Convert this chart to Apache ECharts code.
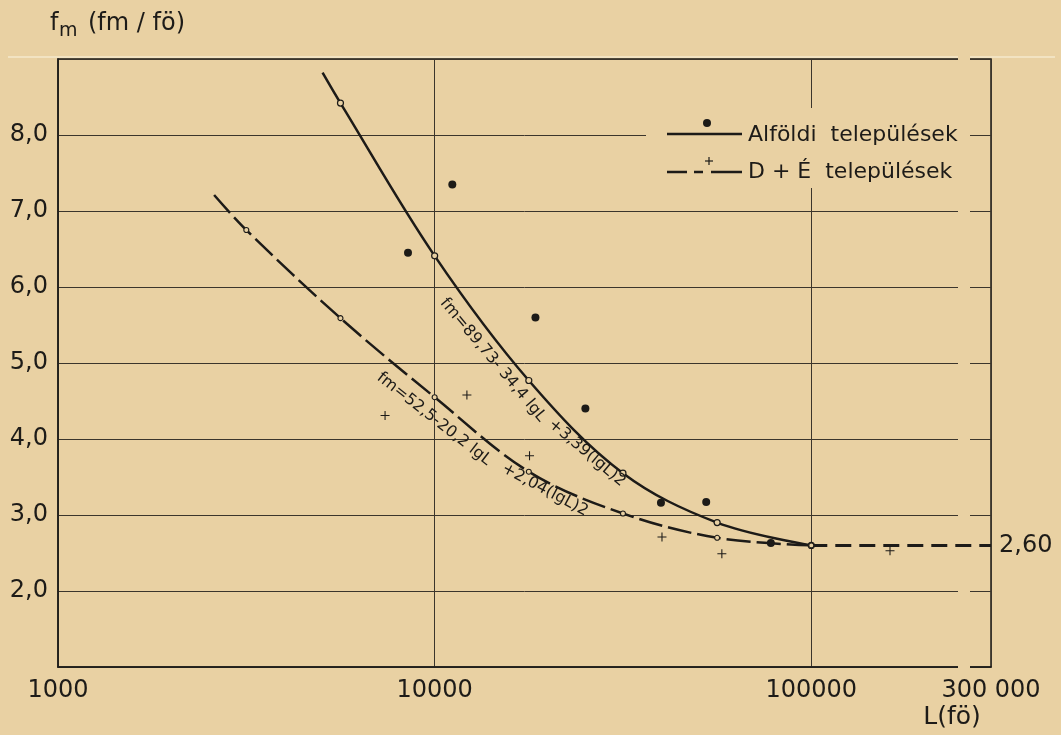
<!DOCTYPE html>
<html>
<head>
<meta charset="utf-8">
<script src="https://cdn.jsdelivr.net/npm/echarts@6/dist/echarts.min.js"></script>
<style>
html, body { margin: 0; padding: 0; background: #e9d1a3; }
#main { width: 1061px; height: 735px; }
</style>
</head>
<body>
<div id="main"></div>
<script>
// tick labels
var xTicks = [1000, 10000, 100000, 300000];
var xTickLabels = ['1000', '10000', '100000', '300 000'];

// fitted curves (open circles on the lines)
var alfoldCurve = [[5040, 8.82], [5623, 8.42], [10000, 6.41], [17783, 4.77], [31623, 3.55], [56234, 2.90], [100000, 2.60]];
var deCurve = [[2597, 7.21], [3162, 6.75], [5623, 5.59], [10000, 4.55], [17783, 3.57], [31623, 3.02], [56234, 2.70], [100000, 2.60]];
var plateau = [[100000, 2.60], [300000, 2.60]];

// measured settlements
var alfoldPoints = [[8497, 6.45], [11140, 7.35], [18520, 5.60], [25130, 4.40], [39890, 3.16], [52600, 3.17], [78100, 2.63]];
var dePoints = [[7385, 4.31], [12180, 4.58], [17860, 3.78], [40140, 2.71], [57880, 2.49], [161800, 2.53]];

var ink = '#1d1b18';
var gridInk = '#3b352c';
var paper = '#e9d1a3';
var font = 'DejaVu Sans';
var plusPath = 'path://M4.4,0H5.6V4.4H10V5.6H5.6V10H4.4V5.6H0V4.4H4.4Z';

// first point of each curve carries no circle
function curveData(arr) {
    return arr.map(function (p, i) {
        return i === 0 ? { value: p, symbol: 'none' } : p;
    });
}

var chart = echarts.init(document.getElementById('main'));
chart.setOption({
    animation: false,
    backgroundColor: paper,
    grid: {
        left: 58, right: 70, top: 59, bottom: 68,
        show: true,
        borderColor: ink,
        borderWidth: 1.5,
        backgroundColor: 'transparent',
        outerBoundsMode: 'none'
    },
    xAxis: {
        type: 'log',
        logBase: 10,
        min: 1000,
        max: 300000,
        axisLine: { show: true, lineStyle: { color: ink, width: 1.5 } },
        axisTick: { show: false },
        splitLine: { show: true, lineStyle: { color: gridInk, width: 1 } },
        axisLabel: {
            customValues: xTicks,
            margin: 12,
            color: ink,
            fontFamily: font,
            fontSize: 24,
            formatter: function (v) {
                var best = 0;
                for (var i = 0; i < xTicks.length; i++) {
                    if (Math.abs(Math.log10(xTicks[i]) - Math.log10(v)) < Math.abs(Math.log10(xTicks[best]) - Math.log10(v))) best = i;
                }
                return xTickLabels[best];
            }
        }
    },
    yAxis: {
        type: 'value',
        min: 1,
        max: 9,
        interval: 1,
        axisLine: { show: true, lineStyle: { color: ink, width: 1.5 } },
        axisTick: { show: false },
        splitLine: { show: true, lineStyle: { color: gridInk, width: 1 } },
        axisLabel: {
            margin: 10,
            color: ink,
            fontFamily: font,
            fontSize: 24,
            formatter: function (v) {
                if (v <= 1 || v >= 9) return '';
                return v.toFixed(1).replace('.', ',');
            }
        }
    },
    series: [
        {
            name: 'Alföldi települések görbe',
            type: 'line',
            smooth: 0.35,
            data: curveData(alfoldCurve),
            symbol: 'circle',
            symbolSize: 6,
            itemStyle: { color: paper, borderColor: ink, borderWidth: 1.2, opacity: 1 },
            lineStyle: { color: ink, width: 2.5 },
            z: 3
        },
        {
            name: 'D+É települések görbe',
            type: 'line',
            smooth: 0.35,
            data: curveData(deCurve),
            symbol: 'circle',
            symbolSize: 5,
            itemStyle: { color: paper, borderColor: ink, borderWidth: 1.1, opacity: 1 },
            lineStyle: { color: ink, width: 2.5, type: [24, 6] },
            z: 3
        },
        {
            name: 'határérték',
            type: 'line',
            data: plateau,
            symbol: 'none',
            lineStyle: { color: ink, width: 3, type: [16, 8] },
            endLabel: {
                show: true,
                distance: 8,
                color: ink,
                fontFamily: font,
                fontSize: 24,
                formatter: function (p) { return p.value[1].toFixed(2).replace('.', ','); }
            },
            z: 3
        },
        {
            name: 'Alföldi települések',
            type: 'scatter',
            data: alfoldPoints,
            symbol: 'circle',
            symbolSize: 8,
            itemStyle: { color: ink, opacity: 1 },
            z: 4
        },
        {
            name: 'D+É települések',
            type: 'scatter',
            data: dePoints,
            symbol: plusPath,
            symbolSize: 9,
            itemStyle: { color: ink, opacity: 1 },
            z: 4
        }
    ],
    graphic: [
        // faint crease in the paper
        { type: 'line', silent: true, z: 0, shape: { x1: 8, y1: 57, x2: 1055, y2: 57 }, style: { stroke: '#f5e8cc', lineWidth: 1.5 } },
        // white stripe where the ruled lines break
        { type: 'rect', silent: true, z: 1, shape: { x: 958, y: 52, width: 12, height: 620 }, style: { fill: paper } },
        // legend
        { type: 'rect', silent: true, z: 1, shape: { x: 646, y: 108, width: 320, height: 80 }, style: { fill: paper } },
        { type: 'line', z: 5, shape: { x1: 667, y1: 134, x2: 742, y2: 134 }, style: { stroke: ink, lineWidth: 2.5 } },
        { type: 'circle', z: 5, shape: { cx: 707, cy: 123, r: 4 }, style: { fill: ink } },
        { type: 'text', z: 5, x: 748, y: 135, style: { text: 'Alföldi  települések', fill: ink, fontFamily: font, fontSize: 22, align: 'left', verticalAlign: 'middle' } },
        { type: 'line', z: 5, shape: { x1: 667, y1: 172, x2: 742, y2: 172 }, style: { stroke: ink, lineWidth: 2.5, lineDash: [20, 7, 9, 8, 31, 0] } },
        { type: 'line', z: 5, shape: { x1: 705, y1: 161, x2: 713, y2: 161 }, style: { stroke: ink, lineWidth: 1.2 } },
        { type: 'line', z: 5, shape: { x1: 709, y1: 157, x2: 709, y2: 165 }, style: { stroke: ink, lineWidth: 1.2 } },
        { type: 'text', z: 5, x: 748, y: 172, style: { text: 'D + É  települések', fill: ink, fontFamily: font, fontSize: 22, align: 'left', verticalAlign: 'middle' } },
        // axis titles
        { type: 'text', z: 5, x: 50, y: 24, style: { text: 'f', fill: ink, fontFamily: font, fontSize: 24, align: 'left', verticalAlign: 'middle' } },
        { type: 'text', z: 5, x: 59, y: 31, style: { text: 'm', fill: ink, fontFamily: font, fontSize: 19, align: 'left', verticalAlign: 'middle' } },
        { type: 'text', z: 5, x: 88, y: 24, style: { text: '(fm / fö)', fill: ink, fontFamily: font, fontSize: 24, align: 'left', verticalAlign: 'middle' } },
        { type: 'text', z: 5, x: 952, y: 717, style: { text: 'L(fö)', fill: ink, fontFamily: font, fontSize: 25, align: 'center', verticalAlign: 'middle' } },
        // regression formulas along the curves
        { type: 'text', z: 5, x: 493, y: 360, rotation: -50 * Math.PI / 180, style: { text: 'fm=89,73- 34,4 lgL', fill: ink, fontFamily: font, fontSize: 16, align: 'center', verticalAlign: 'middle' } },
        { type: 'text', z: 5, x: 587, y: 453, rotation: -40 * Math.PI / 180, style: { text: '+3,39(lgL)2', fill: ink, fontFamily: font, fontSize: 16, align: 'center', verticalAlign: 'middle' } },
        { type: 'text', z: 5, x: 434, y: 419, rotation: -38 * Math.PI / 180, style: { text: 'fm=52,5-20,2 lgL', fill: ink, fontFamily: font, fontSize: 16, align: 'center', verticalAlign: 'middle' } },
        { type: 'text', z: 5, x: 545, y: 490, rotation: -28 * Math.PI / 180, style: { text: '+2,04(lgL)2', fill: ink, fontFamily: font, fontSize: 16, align: 'center', verticalAlign: 'middle' } }
    ]
});
</script>
</body>
</html>
